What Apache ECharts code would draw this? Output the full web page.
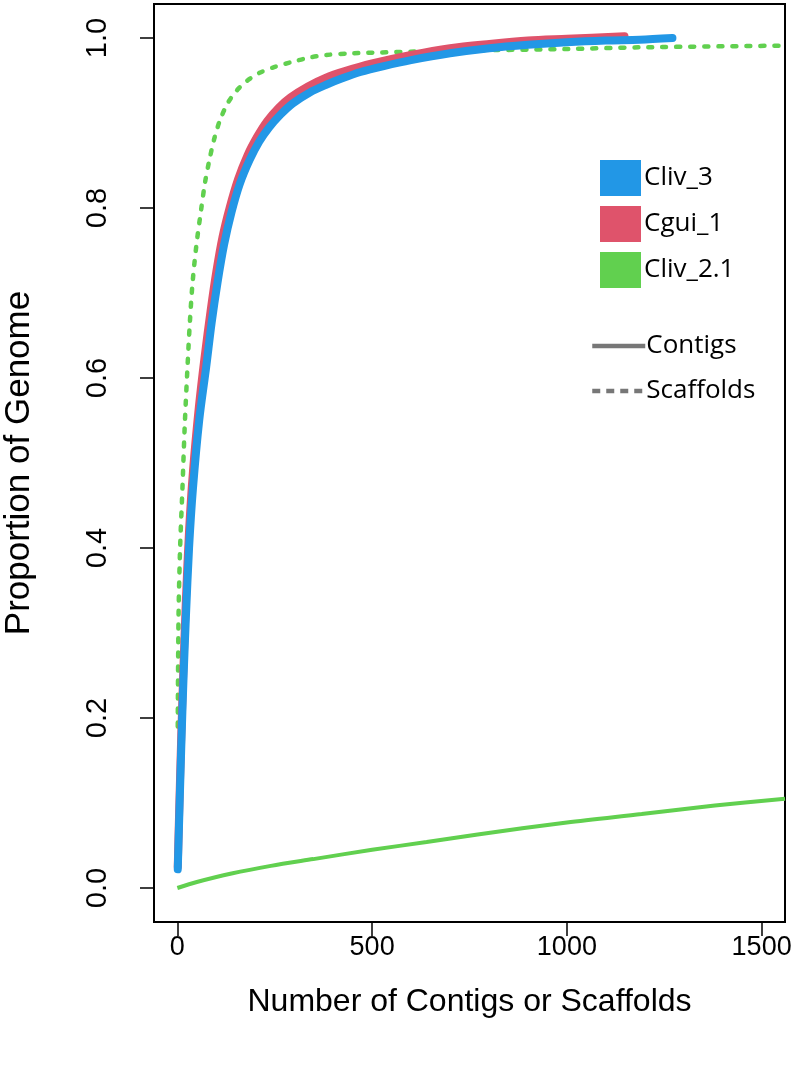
<!DOCTYPE html>
<html>
<head>
<meta charset="utf-8">
<script src="https://cdn.jsdelivr.net/npm/echarts@6/dist/echarts.min.js"></script>
<style>
  html, body { margin: 0; padding: 0; background: #fff; }
  #chart { width: 800px; height: 1083px; }
</style>
</head>
<body>
<div id="chart"></div>
<script>
// tick positions
var xTicks = [0, 500, 1000, 1500];
var yTicks = [0, 0.2, 0.4, 0.6, 0.8, 1.0];

// cumulative proportion of genome vs number of contigs / scaffolds
var cliv3Contigs = [
    [1, 0.022], [4, 0.07], [10, 0.166], [16, 0.25], [22, 0.32], [30, 0.4],
    [40, 0.47], [56, 0.55], [74, 0.613], [88, 0.665], [103, 0.712],
    [120, 0.757], [139, 0.795], [160, 0.828], [185, 0.856], [210, 0.878],
    [236, 0.895], [265, 0.91], [296, 0.923], [340, 0.936], [382, 0.945],
    [420, 0.952], [470, 0.96], [530, 0.967], [600, 0.974], [700, 0.982],
    [801, 0.988], [900, 0.992], [1000, 0.995], [1100, 0.997], [1187, 0.998],
    [1271, 1.0]
];
var cgui1Contigs = [
    [1, 0.025], [4, 0.08], [10, 0.18], [16, 0.265], [22, 0.34], [30, 0.42],
    [40, 0.49], [55, 0.565], [70, 0.625], [85, 0.678], [100, 0.725],
    [116, 0.766], [134, 0.80], [156, 0.834], [180, 0.862], [205, 0.884],
    [230, 0.902], [260, 0.918], [290, 0.93], [335, 0.943], [380, 0.953],
    [430, 0.961], [500, 0.97], [600, 0.98], [700, 0.988], [801, 0.993],
    [900, 0.997], [1000, 0.999], [1148, 1.002]
];
var cliv21Contigs = [
    [0, 0.0], [50, 0.007], [139, 0.017], [240, 0.026], [349, 0.034],
    [500, 0.045], [640, 0.054], [771, 0.063], [1000, 0.077], [1192, 0.087],
    [1380, 0.097], [1560, 0.105]
];
var cliv21Scaffolds = [
    [1, 0.19], [3, 0.32], [7, 0.40], [13, 0.47], [19, 0.545], [26, 0.613],
    [32, 0.665], [39, 0.712], [49, 0.757], [61, 0.798], [71, 0.83],
    [82, 0.856], [95, 0.882], [110, 0.904], [130, 0.924], [154, 0.939],
    [180, 0.95], [211, 0.959], [250, 0.966], [296, 0.972], [340, 0.977],
    [382, 0.98], [450, 0.982], [700, 0.985], [1000, 0.987], [1187, 0.989],
    [1560, 0.991]
];

var blue = '#2297E6', red = '#DF536B', green = '#61D04F', grey = '#777777';
var axisFont = 'Liberation Sans, Arial, sans-serif';
var legendFont = 'Open Sans, Noto Sans, sans-serif';

var chart = echarts.init(document.getElementById('chart'));

var option = {
    animation: false,
    backgroundColor: '#fff',
    grid: {
        left: 154, right: 15, top: 4, bottom: 161,
        outerBoundsMode: 'none', containLabel: false,
        show: true, borderColor: '#000', borderWidth: 2
    },
    xAxis: {
        type: 'value',
        min: -60, max: 1560,
        splitLine: { show: false },
        axisLine: { show: false, onZero: false },
        axisTick: { show: true, customValues: xTicks, length: 14, lineStyle: { color: '#000', width: 1.5 } },
        axisLabel: {
            customValues: xTicks, margin: 12,
            formatter: function (v) { return String(v); },
            fontFamily: axisFont, fontSize: 27, color: '#000'
        },
        name: 'Number of Contigs or Scaffolds',
        nameLocation: 'middle', nameGap: 64,
        nameTextStyle: { fontFamily: axisFont, fontSize: 32, color: '#000' }
    },
    yAxis: {
        type: 'value',
        min: -0.04, max: 1.04,
        splitLine: { show: false },
        axisLine: { show: false, onZero: false },
        axisTick: { show: true, customValues: yTicks, length: 14, lineStyle: { color: '#000', width: 1.5 } },
        axisLabel: {
            customValues: yTicks, rotate: 90, margin: 42,
            formatter: function (v) { return v.toFixed(1); },
            fontFamily: axisFont, fontSize: 29, color: '#000'
        },
        name: 'Proportion of Genome',
        nameLocation: 'middle', nameGap: 117,
        nameTextStyle: { fontFamily: axisFont, fontSize: 35, color: '#000' }
    },
    legend: [{
        orient: 'vertical', left: 595, top: 155,
        icon: 'rect', itemWidth: 41, itemHeight: 36, itemGap: 10,
        selectedMode: false,
        textStyle: { fontFamily: legendFont, fontSize: 26, color: '#000', padding: [0, 0, 0, -2] },
        data: ['Cliv_3', 'Cgui_1', 'Cliv_2.1']
    }, {
        orient: 'vertical', left: 585, top: 328,
        itemWidth: 53, itemHeight: 14, itemGap: 19,
        selectedMode: false,
        itemStyle: { opacity: 0 },
        lineStyle: { width: 4.5 },
        textStyle: { fontFamily: legendFont, fontSize: 26, color: '#000', padding: [0, 0, 0, -4] },
        data: ['Contigs', 'Scaffolds']
    }],
    series: [{
        name: 'Cliv_2.1', type: 'line', data: cliv21Scaffolds,
        showSymbol: false, symbol: 'none', smooth: 0.3,
        itemStyle: { color: green },
        lineStyle: { color: green, width: 4.5, type: [4, 10], cap: 'round' }
    }, {
        name: 'Cliv_2.1', type: 'line', data: cliv21Contigs,
        showSymbol: false, symbol: 'none', smooth: 0.3,
        itemStyle: { color: green },
        lineStyle: { color: green, width: 4 }
    }, {
        name: 'Cgui_1', type: 'line', data: cgui1Contigs,
        showSymbol: false, symbol: 'none', smooth: 0.3,
        itemStyle: { color: red },
        lineStyle: { color: red, width: 8, cap: 'round' }
    }, {
        name: 'Cliv_3', type: 'line', data: cliv3Contigs,
        showSymbol: false, symbol: 'none', smooth: 0.3,
        itemStyle: { color: blue },
        lineStyle: { color: blue, width: 8, cap: 'round' }
    }, {
        // legend-only entries for line types
        name: 'Contigs', type: 'line', data: [], symbol: 'none',
        itemStyle: { color: grey },
        lineStyle: { color: grey, width: 4 }
    }, {
        name: 'Scaffolds', type: 'line', data: [], symbol: 'none',
        itemStyle: { color: grey },
        lineStyle: { color: grey, width: 4, type: [8, 6] }
    }]
};

chart.setOption(option);
</script>
</body>
</html>
